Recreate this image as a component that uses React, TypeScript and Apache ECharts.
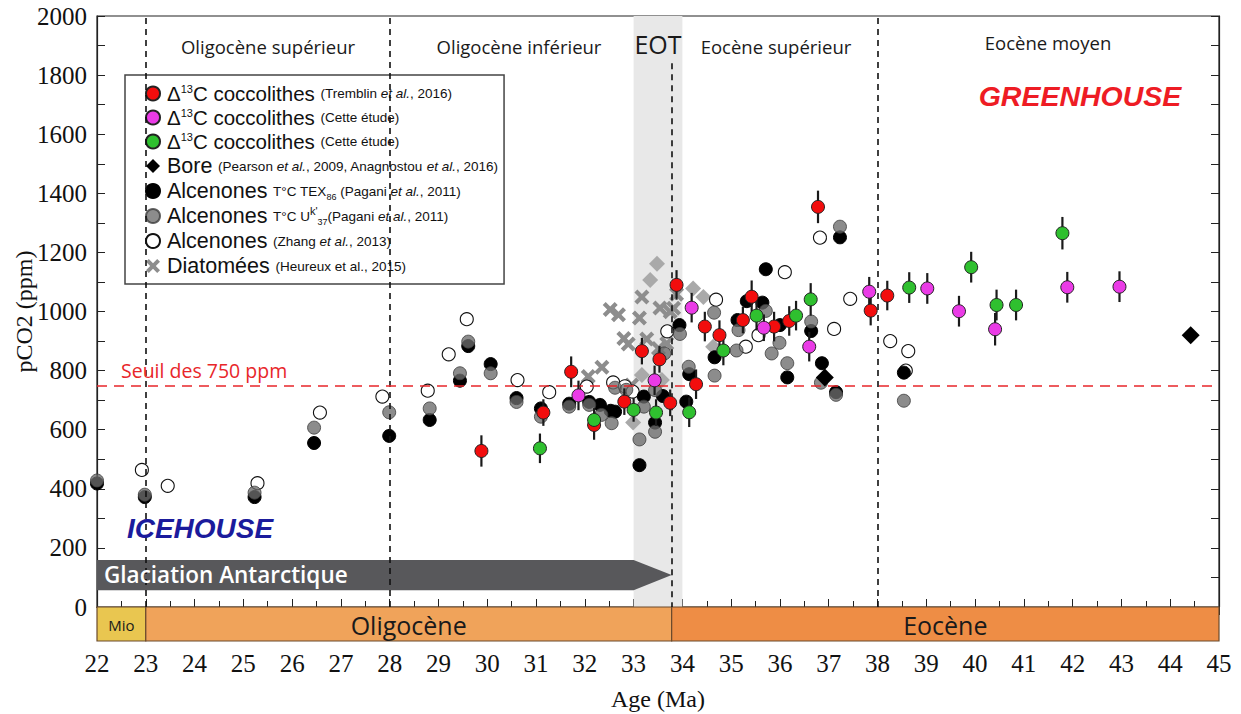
import React, { useEffect, useRef } from 'react';
import * as echarts from 'echarts';

// ---------- DATA ----------
const ageMin = 22;
const ageMax = 45;
const co2Min = 0;
const co2Max = 2000;
const co2Step = 200;
const threshold = 750;

// epochs (bottom band)
const epochNames = ['Mio', 'Oligocène', 'Eocène'];
const epochStart = [22, 23, 33.78];
const epochEnd = [23, 33.78, 45];

// boundaries (dashed verticals)
const boundaries = [23, 28, 38];
const eotBoundary = 33.78;
const eotStart = 33.0;
const eotEnd = 34.0;

// glaciation arrow (age)
const glaciationStart = 22;
const glaciationBodyEnd = 33.0;
const glaciationEnd = 33.78;

// [age, pCO2, error]
const redTremblin = [
  [29.88, 528, 53], [31.15, 658, 45], [31.72, 796, 52], [32.19, 616, 50], [32.81, 695, 45],
  [33.17, 866, 45], [33.53, 838, 45], [33.75, 691, 45], [33.88, 1090, 50], [34.28, 754, 50],
  [34.46, 949, 50], [34.76, 920, 50], [35.24, 971, 45], [35.42, 1050, 55], [35.88, 949, 50],
  [36.19, 968, 50], [36.78, 1354, 55], [37.86, 1003, 50], [38.20, 1054, 50],
];
const magentaStudy = [
  [31.87, 716, 50], [33.43, 767, 50], [34.19, 1013, 50], [35.67, 945, 45], [36.60, 881, 50],
  [37.83, 1067, 50], [39.02, 1078, 52], [39.67, 1001, 52], [40.41, 940, 55], [41.89, 1082, 52],
  [42.96, 1084, 52],
];
const greenStudy = [
  [31.08, 537, 50], [32.19, 633, 40], [33.0, 667, 40], [33.46, 658, 45], [34.14, 659, 50],
  [34.84, 868, 50], [35.52, 986, 50], [36.33, 986, 50], [36.63, 1041, 55], [38.65, 1081, 52],
  [39.92, 1150, 52], [40.44, 1022, 52], [40.84, 1022, 52], [41.79, 1265, 55],
];
const boronBlack = [[36.92, 777], [44.42, 920]];
const boronGray = [
  [32.99, 624], [33.17, 785], [33.34, 1107], [33.48, 1162], [33.58, 768],
  [34.22, 1078], [34.43, 1049], [34.63, 881],
];
const alkTex86 = [
  [22.0, 418], [22.98, 372], [25.23, 372], [26.45, 555], [27.99, 579], [28.82, 633],
  [29.44, 766], [29.61, 883], [30.07, 822], [30.60, 707], [31.10, 672], [31.68, 688],
  [32.09, 694], [32.31, 684], [32.53, 664], [32.62, 661], [33.12, 480], [33.21, 712],
  [33.44, 624], [33.60, 714], [33.94, 954], [34.08, 695], [34.14, 788], [34.66, 845],
  [35.13, 971], [35.32, 1035], [35.64, 1030], [35.71, 1143], [36.0, 954], [36.15, 777],
  [36.64, 934], [36.86, 825], [37.15, 727], [37.23, 1251], [38.54, 793],
];
const alkUk37 = [
  [22.0, 428], [22.98, 380], [25.23, 387], [26.45, 607], [27.99, 659], [28.82, 672],
  [29.44, 791], [29.61, 898], [30.07, 791], [30.60, 694], [31.10, 644], [31.68, 678],
  [32.09, 684], [32.34, 650], [32.55, 622], [32.62, 742], [32.85, 735], [33.12, 567],
  [33.21, 678], [33.44, 593], [33.44, 734], [33.63, 858], [33.95, 924], [34.13, 813],
  [34.65, 996], [34.66, 783], [35.11, 868], [35.15, 937], [35.71, 1002], [35.83, 858],
  [35.99, 894], [36.15, 825], [36.64, 966], [36.84, 759], [37.15, 718], [37.23, 1287],
  [38.54, 698],
];
const alkZhang = [
  [22.92, 464], [23.45, 410], [25.29, 419], [26.57, 658], [27.85, 712], [28.78, 732],
  [29.21, 855], [29.58, 974], [30.62, 768], [31.27, 727], [32.04, 746], [32.58, 760],
  [32.82, 747], [32.98, 729], [33.69, 933], [34.69, 1040], [35.30, 881], [35.56, 920],
  [36.10, 1133], [36.82, 1250], [37.11, 941], [37.44, 1043], [38.26, 900], [38.63, 866],
  [38.58, 800],
];
const diatoms = [
  [32.07, 780], [32.35, 811], [32.52, 1007], [32.69, 989], [32.80, 909], [32.89, 890],
  [32.96, 751], [33.12, 978], [33.17, 1049], [33.27, 907], [33.51, 875], [33.54, 1012],
  [33.68, 892], [33.75, 999], [33.82, 1011], [33.88, 1058],
];

const periodLabels = ['Oligocène supérieur', 'Oligocène inférieur', 'EOT', 'Eocène supérieur', 'Eocène moyen'];

const seriesNames = [
  'Δ13C coccolithes (Tremblin et al., 2016)',
  'Δ13C coccolithes (Cette étude) M',
  'Δ13C coccolithes (Cette étude) V',
  'Bore (Pearson et al., 2009, Anagnostou et al., 2016)',
  'Alcenones T°C TEX86 (Pagani et al., 2011)',
  'Alcenones T°C Uk37 (Pagani et al., 2011)',
  'Alcenones (Zhang et al., 2013)',
  'Diatomées (Heureux et al., 2015)',
];
const legendLabels = [
  'Δ{sup|13}C coccolithes {ref|(Tremblin }{refi|et al.}{ref|, 2016)}',
  'Δ{sup|13}C coccolithes {ref|(Cette étude)}',
  'Δ{sup|13}C coccolithes {ref|(Cette étude)}',
  '{big|Bore} {ref|(Pearson }{refi|et al.}{ref|, 2009, Anagnostou }{refi|et al.}{ref|, 2016)}',
  '{big|Alcenones} {ref|T°C TEX}{sub|86}{ref| (Pagani }{refi|et al.}{ref|, 2011)}',
  '{big|Alcenones} {ref|T°C U}{sup|k\'}{sub|37}{ref|(Pagani }{refi|et al.}{ref|, 2011)}',
  '{big|Alcenones} {ref|(Zhang }{refi|et al.}{ref|, 2013)}',
  '{big|Diatomées} {ref|(Heureux et al., 2015)}',
];

const SANS = '"Open Sans", "Noto Sans", sans-serif';
const LSANS = '"Liberation Sans", Arial, sans-serif';
const SERIF = '"Liberation Serif", "DejaVu Serif", serif';
const X_PATH = 'path://M2,0 L5,3 L8,0 L10,2 L7,5 L10,8 L8,10 L5,7 L2,10 L0,8 L3,5 L0,2 Z';

export default function App() {
  const ref = useRef<HTMLDivElement>(null);
  useEffect(() => {
    if (!ref.current) return;
    const chart = echarts.init(ref.current, null, { renderer: 'svg' });
    const epochColors = ['#e9c650', '#f0a35a', '#ee8d45'];
    const epochFonts = ['15px ' + SANS, '25px ' + SANS, '25px ' + SANS];

    const errorBars = (data: number[][], name: string) => ({
      type: 'custom',
      name: name + ' err',
      xAxisIndex: 0,
      yAxisIndex: 0,
      z: 5,
      silent: true,
      data,
      encode: { x: 0, y: 1 },
      renderItem: (_p: any, api: any) => {
        const x = api.value(0), y = api.value(1), e = api.value(2);
        const a = api.coord([x, y + e]);
        const b = api.coord([x, y - e]);
        return {
          type: 'line',
          shape: { x1: a[0], y1: a[1], x2: b[0], y2: b[1] },
          style: { stroke: '#1a1a1a', lineWidth: 2.2 },
        };
      },
    });

    const circleSize = 13;

    const option: any = {
      animation: false,
      backgroundColor: '#ffffff',
      grid: [
        { left: 97, top: 16, width: 1122, height: 591, show: true, borderColor: '#222', borderWidth: 1.2, backgroundColor: 'transparent', outerBoundsMode: 'none', containLabel: false },
        { left: 97, top: 607, width: 1122, height: 34, show: false, outerBoundsMode: 'none', containLabel: false },
      ],
      xAxis: [
        {
          gridIndex: 0, type: 'value', position: 'bottom', min: ageMin, max: ageMax, interval: 1,
          axisLine: { show: true, lineStyle: { color: '#222', width: 1.2 } },
          axisTick: { show: true, inside: true, length: 8, lineStyle: { color: '#222' } },
          minorTick: { show: true, splitNumber: 2, length: 6, lineStyle: { color: '#222' } },
          axisLabel: { show: false }, splitLine: { show: false },
        },
        {
          gridIndex: 0, type: 'value', position: 'top', min: ageMin, max: ageMax, interval: 1,
          axisLine: { show: true, lineStyle: { color: '#222', width: 1.2 } },
          axisTick: { show: true, inside: true, length: 8, lineStyle: { color: '#222' } },
          minorTick: { show: true, splitNumber: 2, length: 6, lineStyle: { color: '#222' } },
          axisLabel: { show: false }, splitLine: { show: false },
        },
        {
          gridIndex: 1, type: 'value', position: 'bottom', min: ageMin, max: ageMax, interval: 1,
          axisLine: { show: false }, axisTick: { show: false }, splitLine: { show: false },
          axisLabel: { show: true, margin: 10, fontFamily: SERIF, fontSize: 25, color: '#111' },
          name: 'Age (Ma)', nameLocation: 'middle', nameGap: 46,
          nameTextStyle: { fontFamily: SERIF, fontSize: 24, color: '#111' },
        },
      ],
      yAxis: [
        {
          gridIndex: 0, type: 'value', position: 'left', min: co2Min, max: co2Max, interval: co2Step,
          axisLine: { show: true, lineStyle: { color: '#222', width: 1.2 } },
          axisTick: { show: true, inside: true, length: 8, lineStyle: { color: '#222' } },
          minorTick: { show: true, splitNumber: 2, length: 8, lineStyle: { color: '#222' } },
          axisLabel: { show: true, margin: 10, fontFamily: SERIF, fontSize: 25, color: '#111', formatter: (v: number) => String(v) },
          splitLine: { show: false },
          name: 'pCO2 (ppm)', nameLocation: 'middle', nameGap: 61, nameRotate: 90, nameMoveOverlap: false,
          nameTextStyle: { fontFamily: SERIF, fontSize: 24, color: '#111' },
        },
        {
          gridIndex: 0, type: 'value', position: 'right', min: co2Min, max: co2Max, interval: co2Step,
          axisLine: { show: true, lineStyle: { color: '#222', width: 1.2 } },
          axisTick: { show: true, inside: true, length: 8, lineStyle: { color: '#222' } },
          minorTick: { show: true, splitNumber: 2, length: 8, lineStyle: { color: '#222' } },
          axisLabel: { show: false }, splitLine: { show: false },
        },
        { gridIndex: 1, type: 'value', min: 0, max: 1, show: false },
      ],
      legend: {
        left: 125, top: 75,
        orient: 'vertical',
        backgroundColor: '#ffffff',
        borderColor: '#444', borderWidth: 1.5,
        padding: [8, 6, 7, 20],
        itemGap: 3,
        itemWidth: 14, itemHeight: 14,
        data: seriesNames,
        formatter: (name: string) => legendLabels[seriesNames.indexOf(name)],
        textStyle: {
          fontFamily: LSANS, fontSize: 20.5, color: '#111', lineHeight: 21, padding: [0, 0, 0, 2],
          rich: {
            sup: { fontFamily: LSANS, fontSize: 11, lineHeight: 21, verticalAlign: 'top', padding: [0, 0, 5, 0] },
            sub: { fontFamily: LSANS, fontSize: 9, lineHeight: 21, verticalAlign: 'bottom', padding: [5, 0, 0, 0] },
            ref: { fontFamily: LSANS, fontSize: 13.5, lineHeight: 21, color: '#111' },
            refi: { fontFamily: LSANS, fontSize: 13.5, lineHeight: 21, fontStyle: 'italic', color: '#111' },
            big: { fontFamily: LSANS, fontSize: 21.5, lineHeight: 21, color: '#111' },
          },
        },
      },
      series: [
        // guides: EOT band, boundaries, threshold
        {
          type: 'scatter', name: 'guides', xAxisIndex: 0, yAxisIndex: 0, data: [], z: 1, silent: true,
          markArea: {
            silent: true,
            itemStyle: { color: '#e8e8e8' },
            data: [[{ xAxis: eotStart }, { xAxis: eotEnd }]],
          },
        },
        {
          type: 'scatter', name: 'lines', xAxisIndex: 0, yAxisIndex: 0, data: [], z: 2, silent: true,
          markLine: {
            silent: true, symbol: ['none', 'none'], label: { show: false },
            lineStyle: { color: '#111', width: 1.6, type: [6, 5] },
            data: [
              ...boundaries.map((b) => ({ xAxis: b })),
              [{ coord: [eotBoundary, 1840] }, { coord: [eotBoundary, co2Min] }],
              { yAxis: threshold, lineStyle: { color: '#e8262a', width: 1.6, type: [10, 7] } },
            ],
          },
        },
        // glaciation arrow
        {
          type: 'custom', name: 'glaciation', xAxisIndex: 0, yAxisIndex: 0, z: 3, silent: true,
          data: [[glaciationStart, glaciationBodyEnd, glaciationEnd]],
          encode: { x: [0, 2] },
          renderItem: (_p: any, api: any) => {
            const s = api.coord([api.value(0), 159]);
            const m = api.coord([api.value(1), 57]);
            const t = api.coord([api.value(2), 108]);
            return {
              type: 'polygon',
              shape: { points: [[s[0], s[1]], [m[0], s[1]], [t[0], t[1]], [m[0], m[1]], [s[0], m[1]]] },
              style: { fill: '#58585b' },
            };
          },
        },
        // epoch band
        {
          type: 'custom', name: 'epochs', xAxisIndex: 2, yAxisIndex: 2, silent: true,
          data: epochNames.map((_n, i) => [epochStart[i], epochEnd[i], i]),
          encode: { x: [0, 1] },
          renderItem: (_p: any, api: any) => {
            const i = api.value(2);
            const a = api.coord([api.value(0), 1]);
            const b = api.coord([api.value(1), 0]);
            return {
              type: 'group',
              children: [
                { type: 'rect', shape: { x: a[0], y: a[1], width: b[0] - a[0], height: b[1] - a[1] }, style: { fill: epochColors[i], stroke: '#6a4a2c', lineWidth: 1.2 } },
                { type: 'text', style: { text: epochNames[i], x: (a[0] + b[0]) / 2, y: (a[1] + b[1]) / 2 + 1, align: 'center', verticalAlign: 'middle', font: epochFonts[i], fill: '#1a1a1a' } },
              ],
            };
          },
        },
        {
          type: 'scatter', name: 'boronGray', xAxisIndex: 0, yAxisIndex: 0, z: 3,
          data: boronGray, symbol: 'diamond', symbolSize: 16,
          itemStyle: { color: '#a9a9a9', opacity: 1 },
        },
        {
          type: 'scatter', name: seriesNames[7], xAxisIndex: 0, yAxisIndex: 0, z: 3,
          data: diatoms, symbol: X_PATH, symbolSize: 15,
          itemStyle: { color: '#8d8d8d', opacity: 1 },
        },
        {
          type: 'scatter', name: seriesNames[6], xAxisIndex: 0, yAxisIndex: 0, z: 4,
          data: alkZhang, symbol: 'circle', symbolSize: circleSize,
          itemStyle: { color: '#ffffff', borderColor: '#111', borderWidth: 1.1, opacity: 1 },
        },
        {
          type: 'scatter', name: seriesNames[4], xAxisIndex: 0, yAxisIndex: 0, z: 4,
          data: alkTex86, symbol: 'circle', symbolSize: circleSize,
          itemStyle: { color: '#000000', borderColor: '#000', borderWidth: 1, opacity: 1 },
        },
        {
          type: 'scatter', name: seriesNames[5], xAxisIndex: 0, yAxisIndex: 0, z: 4,
          data: alkUk37, symbol: 'circle', symbolSize: circleSize,
          itemStyle: { color: 'rgba(107,107,107,0.78)', borderColor: 'rgba(60,60,60,0.8)', borderWidth: 1, opacity: 1 },
        },
        {
          type: 'scatter', name: seriesNames[3], xAxisIndex: 0, yAxisIndex: 0, z: 4,
          data: boronBlack, symbol: 'diamond', symbolSize: 18,
          itemStyle: { color: '#000000', opacity: 1 },
        },
        errorBars(redTremblin, 'red'),
        errorBars(magentaStudy, 'magenta'),
        errorBars(greenStudy, 'green'),
        {
          type: 'scatter', name: seriesNames[0], xAxisIndex: 0, yAxisIndex: 0, z: 6,
          data: redTremblin, symbol: 'circle', symbolSize: circleSize,
          itemStyle: { color: '#f20d0d', borderColor: '#222', borderWidth: 1, opacity: 1 },
        },
        {
          type: 'scatter', name: seriesNames[1], xAxisIndex: 0, yAxisIndex: 0, z: 6,
          data: magentaStudy, symbol: 'circle', symbolSize: circleSize,
          itemStyle: { color: '#ea3be6', borderColor: '#222', borderWidth: 1, opacity: 1 },
        },
        {
          type: 'scatter', name: seriesNames[2], xAxisIndex: 0, yAxisIndex: 0, z: 6,
          data: greenStudy, symbol: 'circle', symbolSize: circleSize,
          itemStyle: { color: '#2fc02f', borderColor: '#222', borderWidth: 1, opacity: 1 },
        },
      ],
      graphic: [
        { type: 'text', x: 268, y: 46, z: 20, style: { text: periodLabels[0], align: 'center', verticalAlign: 'middle', font: '18.5px ' + SANS, fill: '#1a1a1a' } },
        { type: 'text', x: 519, y: 46, z: 20, style: { text: periodLabels[1], align: 'center', verticalAlign: 'middle', font: '18.5px ' + SANS, fill: '#1a1a1a' } },
        { type: 'text', x: 658, y: 44, z: 20, style: { text: periodLabels[2], align: 'center', verticalAlign: 'middle', font: '25px ' + SANS, fill: '#1a1a1a' } },
        { type: 'text', x: 776, y: 46, z: 20, style: { text: periodLabels[3], align: 'center', verticalAlign: 'middle', font: '18.5px ' + SANS, fill: '#1a1a1a' } },
        { type: 'text', x: 1048, y: 42, z: 20, style: { text: periodLabels[4], align: 'center', verticalAlign: 'middle', font: '18.5px ' + SANS, fill: '#1a1a1a' } },
        { type: 'text', x: 1080, y: 96, z: 20, style: { text: 'GREENHOUSE', align: 'center', verticalAlign: 'middle', font: 'italic bold 28.5px ' + LSANS, fill: '#ee1c24' } },
        { type: 'text', x: 200, y: 528, z: 20, style: { text: 'ICEHOUSE', align: 'center', verticalAlign: 'middle', font: 'italic bold 28px ' + LSANS, fill: '#1b1b9c' } },
        { type: 'text', x: 121, y: 370, z: 20, style: { text: 'Seuil des 750 ppm', align: 'left', verticalAlign: 'middle', font: '19.5px ' + SANS, fill: '#e8262a' } },
        { type: 'text', x: 104, y: 574, z: 20, style: { text: 'Glaciation Antarctique', align: 'left', verticalAlign: 'middle', font: '600 22.5px ' + SANS, fill: '#ffffff' } },
      ],
    };
    chart.setOption(option);
    return () => chart.dispose();
  }, []);
  return <div ref={ref} style={{ position: 'fixed', left: 0, top: 0, width: 1241, height: 714 }} />;
}
